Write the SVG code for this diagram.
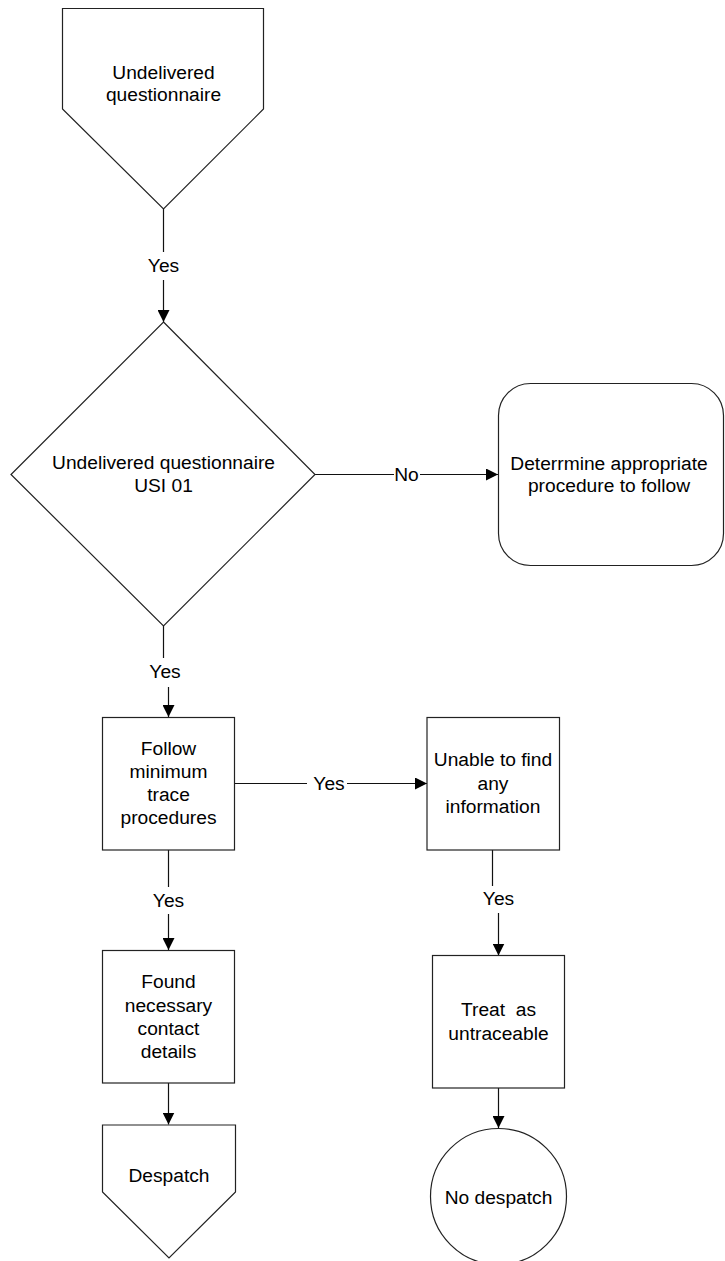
<svg xmlns="http://www.w3.org/2000/svg" width="725" height="1261" viewBox="0 0 725 1261">
  <defs>
    <marker id="arrow" markerUnits="userSpaceOnUse" markerWidth="12" markerHeight="12" viewBox="0 0 12 12" refX="12" refY="6" orient="auto">
      <path d="M0,0 L12,6 L0,12 Z" fill="#000"/>
    </marker>
  </defs>
  <style>
    .shape { fill: #fff; stroke: #222; stroke-width: 1.2; }
    .line { fill: none; stroke: #111; stroke-width: 1.2; }
    .arr { marker-end: url(#arrow); }
    text { font-family: "Liberation Sans", Arial, sans-serif; font-size: 19.2px; fill: #000; text-anchor: middle; }
  </style>
  <rect width="725" height="1261" fill="#fff"/>

  <!-- connectors -->
  <g id="connectors">
    <line class="line" x1="163.5" y1="209" x2="163.5" y2="252"/>
    <text x="163.5" y="272">Yes</text>
    <line class="line arr" x1="163.5" y1="280" x2="163.5" y2="322"/>

    <line class="line" x1="315" y1="474.5" x2="394" y2="474.5"/>
    <text x="406.5" y="481">No</text>
    <line class="line arr" x1="420" y1="474.5" x2="498" y2="474.5"/>

    <line class="line" x1="163.5" y1="626" x2="163.5" y2="658"/>
    <text x="165" y="678">Yes</text>
    <line class="line arr" x1="168.5" y1="687" x2="168.5" y2="717"/>

    <line class="line" x1="234" y1="783.5" x2="307" y2="783.5"/>
    <text x="329" y="790">Yes</text>
    <line class="line arr" x1="347" y1="783.5" x2="427" y2="783.5"/>

    <line class="line" x1="168.5" y1="850" x2="168.5" y2="887"/>
    <text x="168.5" y="907">Yes</text>
    <line class="line arr" x1="168.5" y1="914" x2="168.5" y2="950"/>

    <line class="line" x1="492.5" y1="850" x2="492.5" y2="886"/>
    <text x="498.5" y="905">Yes</text>
    <line class="line arr" x1="498.5" y1="913" x2="498.5" y2="955.5"/>

    <line class="line arr" x1="168.5" y1="1083" x2="168.5" y2="1124.5"/>
    <line class="line arr" x1="498.5" y1="1088" x2="498.5" y2="1128"/>
  </g>

  <!-- start: off-page connector -->
  <g id="start">
    <polygon class="shape" points="62.5,8.5 263.5,8.5 263.5,109 163.5,209 62.5,109"/>
    <text x="163.5" y="79">Undelivered</text>
    <text x="163.5" y="101">questionnaire</text>
  </g>

  <!-- decision -->
  <g id="decision">
    <polygon class="shape" points="163.5,322 315,474.5 163.5,626 11,474.5"/>
    <text x="163.5" y="469">Undelivered questionnaire</text>
    <text x="163.5" y="492">USI 01</text>
  </g>

  <!-- alternative procedure -->
  <g id="determine">
    <rect class="shape" x="498.5" y="383.5" width="225" height="182" rx="32" ry="32" stroke-width="1.5"/>
    <text x="609" y="470">Deterrmine appropriate</text>
    <text x="609" y="492">procedure to follow</text>
  </g>

  <!-- trace procedures -->
  <g id="follow">
    <rect class="shape" x="102.5" y="717.5" width="132" height="132.5"/>
    <text x="168.5" y="755">Follow</text>
    <text x="168.5" y="778">minimum</text>
    <text x="168.5" y="801">trace</text>
    <text x="168.5" y="824">procedures</text>
  </g>

  <!-- no information found -->
  <g id="unable">
    <rect class="shape" x="427" y="717.5" width="132.5" height="132.5"/>
    <text x="493" y="766">Unable to find</text>
    <text x="493" y="789.5">any</text>
    <text x="493" y="813">information</text>
  </g>

  <!-- contact details found -->
  <g id="found">
    <rect class="shape" x="102.5" y="950.5" width="132" height="132.5"/>
    <text x="168.5" y="988">Found</text>
    <text x="168.5" y="1011.5">necessary</text>
    <text x="168.5" y="1035">contact</text>
    <text x="168.5" y="1058">details</text>
  </g>

  <!-- untraceable -->
  <g id="treat">
    <rect class="shape" x="432.5" y="955.5" width="132" height="132.5"/>
    <text x="498.5" y="1016" xml:space="preserve">Treat  as</text>
    <text x="498.5" y="1039.5">untraceable</text>
  </g>

  <!-- despatch: off-page connector -->
  <g id="despatch">
    <polygon class="shape" points="102.5,1125 235.5,1125 235.5,1192 169,1258 102.5,1192"/>
    <text x="169" y="1182">Despatch</text>
  </g>

  <!-- end: no despatch -->
  <g id="nodespatch">
    <circle class="shape" cx="498.5" cy="1196.5" r="68"/>
    <text x="498.5" y="1203.5">No despatch</text>
  </g>
</svg>
